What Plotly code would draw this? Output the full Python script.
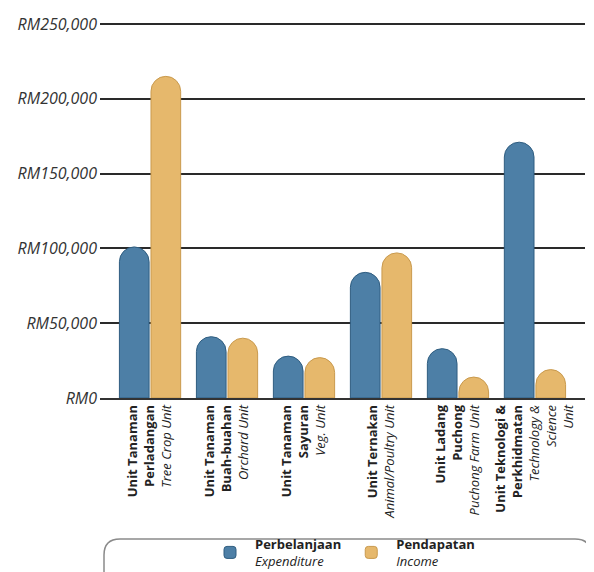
import plotly.graph_objects as go

categories = [
    "<b>Unit Tanaman<br>Perladangan</b><br><i>Tree Crop Unit</i>",
    "<b>Unit Tanaman<br>Buah-buahan</b><br><i>Orchard Unit</i>",
    "<b>Unit Tanaman<br>Sayuran</b><br><i>Veg. Unit</i>",
    "<b>Unit Ternakan</b><br><i>Animal/Poultry Unit</i>",
    "<b>Unit Ladang<br>Puchong</b><br><i>Puchong Farm Unit</i>",
    "<b>Unit Teknologi &<br>Perkhidmatan</b><br><i>Technology &<br>Science<br>Unit</i>",
]
expenditure = [101000, 41000, 28000, 84000, 33000, 171000]
income = [215000, 40000, 27000, 97000, 14000, 19000]

tick_vals = [0, 50000, 100000, 150000, 200000, 250000]
tick_text = ["RM0", "RM50,000", "RM100,000", "RM150,000", "RM200,000", "RM250,000"]

exp_name = "<b>Perbelanjaan</b><br><i>Expenditure</i>"
inc_name = "<b>Pendapatan</b><br><i>Income</i>"

fig = go.Figure()
fig.add_trace(go.Bar(x=categories, y=expenditure, name=exp_name,
                     marker=dict(color="#4d7fa6", line=dict(color="#2f5d80", width=1))))
fig.add_trace(go.Bar(x=categories, y=income, name=inc_name,
                     marker=dict(color="#e6b86c", line=dict(color="#c99a4e", width=1))))

# page offset (default body margin) compensation
OFF = 8
# plot area in screen pixels
L, R, T, B = 100 - OFF, 585 - OFF, 20 - OFF, 398 - OFF
y_top_line = 24 - OFF
y_max = 250000 * (B - T) / (B - y_top_line)
W, H = R - L, B - T

def px_x(p):
    return (p - OFF - L) / W

def px_y(p):
    return (B - (p - OFF)) / H

# rounded legend frame
x0, x1 = px_x(104), px_x(591)
yt, yb = px_y(539), px_y(610)
rx, ry = 16 / W, 16 / H
path = (f"M {x0+rx},{yt} L {x1-rx},{yt} Q {x1},{yt} {x1},{yt-ry} "
        f"L {x1},{yb+ry} Q {x1},{yb} {x1-rx},{yb} L {x0+rx},{yb} "
        f"Q {x0},{yb} {x0},{yb+ry} L {x0},{yt-ry} Q {x0},{yt} {x0+rx},{yt} Z")

fig.update_layout(
    width=594, height=572,
    margin=dict(l=L, r=594 - R, t=T, b=572 - B, autoexpand=False),
    paper_bgcolor="white", plot_bgcolor="white",
    barmode="group", bargap=0.18, bargroupgap=0.06,
    barcornerradius="50%",
    font=dict(family="Open Sans", color="#222"),
    showlegend=True,
    legend=dict(orientation="h", xref="paper", x=0.5, xanchor="center",
                yref="container", y=1 - (529 - OFF) / 572, yanchor="top",
                font=dict(size=13, color="#222"), itemwidth=40,
                bgcolor="rgba(0,0,0,0)"),
    shapes=[dict(type="path", xref="paper", yref="paper", path=path,
                 line=dict(color="#8a8a8a", width=1.5), layer="below")],
)
fig.update_xaxes(
    range=[-0.65, 5.65], tickangle=-90, showline=True, linecolor="#333",
    linewidth=1.5, ticks="", tickfont=dict(size=13, color="#222"),
    showgrid=False, automargin=False,
)
fig.update_yaxes(
    range=[0, y_max], tickvals=tick_vals, ticktext=tick_text,
    showgrid=True, gridcolor="#2a2a2a", gridwidth=1.5, zeroline=False,
    tickfont=dict(size=16, color="#333", style="italic"), ticks="",
    ticklabelstandoff=2, automargin=False,
)

fig.write_html("out.html")
